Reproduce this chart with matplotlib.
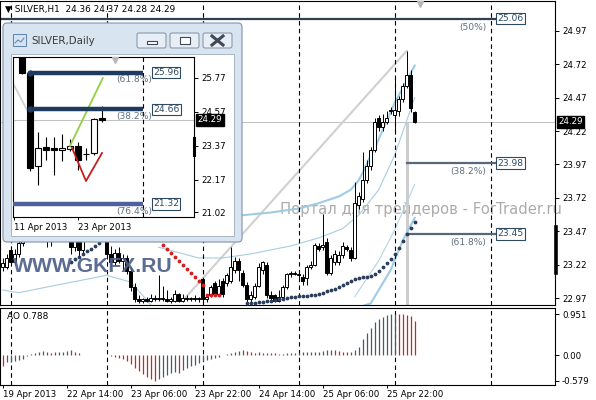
import matplotlib.pyplot as plt
from matplotlib.patches import Rectangle, FancyBboxPatch
import matplotlib.transforms as mtrans

W, H = 596, 400

# ---- SILVER H1 bars, index 0 = 22 Apr 2013 00:00 (first bar shown is 19 Apr 22:00)
bars = list(range(-2, 102))
opens = [23.20, 23.20, 23.33, 23.24, 23.30, 23.38, 23.45, 23.50, 23.52, 23.55,
         23.50, 23.43, 23.40, 23.46, 23.52, 23.55, 23.52, 23.42, 23.35, 23.41,
         23.33, 23.45, 23.52, 23.57, 23.55, 23.50, 23.45, 23.30, 23.24, 23.31,
         23.25, 23.27, 23.17, 23.05, 22.96, 22.95, 22.96, 22.95, 22.97, 22.96,
         22.97, 22.96, 22.95, 22.95, 23.00, 22.95, 22.97, 22.96, 22.97, 22.96,
         23.11, 22.96, 22.99, 23.08, 23.00, 23.10, 23.08, 23.10, 23.18, 23.25,
         23.16, 23.07, 22.96, 22.98, 23.06, 23.18, 23.22, 22.99, 22.99, 22.95,
         22.98, 23.05, 23.15, 23.16, 23.15, 23.13, 23.12, 23.20, 23.22, 23.36,
         23.35, 23.39, 23.16, 23.24, 23.24, 23.29, 23.35, 23.33, 23.27, 23.67,
         23.71, 23.85, 23.96, 24.08, 24.32, 24.25, 24.29, 24.37, 24.34, 24.37,
         24.46, 24.56, 24.64, 24.36]
highs = [23.27, 23.30, 23.36, 23.34, 23.45, 23.50, 23.55, 23.58, 23.60, 23.60,
         23.52, 23.47, 23.48, 23.54, 23.58, 23.62, 23.55, 23.46, 23.44, 23.45,
         23.48, 23.55, 23.60, 23.63, 23.62, 23.56, 23.47, 23.36, 23.34, 23.35,
         23.30, 23.29, 23.20, 23.08, 22.99, 22.97, 22.98, 23.00, 22.99, 23.14,
         23.06, 23.03, 22.98, 23.03, 23.01, 23.00, 22.99, 22.98, 22.99, 22.98,
         23.12, 23.00, 23.07, 23.10, 23.11, 23.12, 23.16, 23.35, 23.28, 23.27,
         23.18, 23.09, 23.02, 23.08, 23.23, 23.25, 23.24, 23.02, 23.00, 23.03,
         23.07, 23.16, 23.17, 23.17, 23.16, 23.15, 23.22, 23.25, 23.38, 23.38,
         23.60, 23.42, 23.29, 23.33, 23.32, 23.39, 23.37, 23.35, 23.84, 23.76,
         24.06, 24.00, 24.10, 24.32, 24.34, 24.35, 24.37, 24.40, 24.61, 24.48,
         24.58, 24.82, 24.68, 24.37]
lows = [23.17, 23.19, 23.22, 23.22, 23.28, 23.36, 23.42, 23.46, 23.48, 23.47,
        23.40, 23.35, 23.36, 23.43, 23.47, 23.50, 23.40, 23.30, 23.32, 23.28,
        23.31, 23.42, 23.48, 23.50, 23.48, 23.42, 23.26, 23.20, 23.22, 23.23,
        23.18, 23.15, 23.02, 22.94, 22.93, 22.93, 22.94, 22.94, 22.95, 22.95,
        22.95, 22.94, 22.93, 22.94, 22.94, 22.94, 22.95, 22.95, 22.95, 22.94,
        22.94, 22.94, 22.98, 22.99, 22.99, 22.98, 23.06, 23.08, 23.16, 23.10,
        23.05, 22.94, 22.93, 22.96, 23.05, 23.15, 22.97, 22.94, 22.94, 22.94,
        22.97, 23.04, 23.13, 23.14, 23.11, 23.07, 23.07, 23.19, 23.21, 23.32,
        23.33, 23.14, 23.14, 23.22, 23.22, 23.27, 23.32, 23.25, 23.26, 23.64,
        23.69, 23.83, 23.93, 24.06, 24.22, 24.22, 24.27, 24.35, 24.20, 24.33,
        24.44, 24.54, 24.36, 24.28]
closes = [23.23, 23.27, 23.24, 23.30, 23.38, 23.45, 23.50, 23.52, 23.55, 23.50,
          23.43, 23.40, 23.46, 23.52, 23.55, 23.52, 23.42, 23.35, 23.41, 23.33,
          23.45, 23.52, 23.57, 23.55, 23.50, 23.45, 23.30, 23.24, 23.31, 23.25,
          23.27, 23.17, 23.05, 22.96, 22.95, 22.96, 22.95, 22.97, 22.96, 22.97,
          22.96, 22.95, 22.96, 23.00, 22.95, 22.97, 22.96, 22.97, 22.96, 22.97,
          22.96, 22.98, 23.05, 23.00, 23.06, 23.00, 23.14, 23.20, 23.25, 23.18,
          23.07, 22.96, 22.99, 23.06, 23.20, 23.24, 22.99, 22.97, 22.95, 22.98,
          23.05, 23.15, 23.16, 23.15, 23.14, 23.10, 23.20, 23.22, 23.37, 23.34,
          23.37, 23.16, 23.27, 23.30, 23.29, 23.36, 23.34, 23.27, 23.68, 23.73,
          23.85, 23.96, 24.08, 24.29, 24.25, 24.29, 24.32, 24.38, 24.38, 24.46,
          24.56, 24.64, 24.39, 24.29]

# parabolic SAR dots
sar_a_bars = [15, 16, 17, 18, 19, 20, 21, 22]
sar_a_vals = [23.24, 23.26, 23.28, 23.30, 23.32, 23.34, 23.36, 23.38]
sar_b_bars = list(range(59, 102))
sar_b_vals = [22.93, 22.93, 22.935, 22.94, 22.94, 22.945, 22.95, 22.955, 22.96, 22.965,
              22.97, 22.975, 22.98, 22.983, 22.985, 22.989, 22.992, 22.996, 23.004, 23.011,
              23.022, 23.030, 23.041, 23.052, 23.067, 23.082, 23.097, 23.112, 23.120, 23.127,
              23.127, 23.135, 23.150, 23.172, 23.202, 23.232, 23.262, 23.299, 23.344, 23.397,
              23.449, 23.494, 23.539]
sar_red_bars = [38, 39, 40, 41, 42, 43, 44, 45, 46, 47, 48, 49, 50, 51, 52]
sar_red_vals = [23.37, 23.34, 23.31, 23.28, 23.25, 23.22, 23.19, 23.16, 23.13, 23.10,
                23.07, 22.99, 22.99, 22.99, 22.99]

# band lines
bb_up_bars = [58, 65, 72, 77, 82, 85, 87, 89, 90, 91, 96, 101]
bb_up_vals = [23.59, 23.61, 23.64, 23.68, 23.73, 23.78, 23.85, 23.97, 24.04, 24.09, 24.43, 24.71]
bb_mid_bars = [37, 42, 47, 53, 60, 70, 77, 83, 87, 92, 96, 101]
bb_mid_vals = [23.35, 23.31, 23.27, 23.27, 23.30, 23.36, 23.42, 23.49, 23.59, 23.78, 24.04, 24.47]
bb_lo1_bars = [-2, 2, 12, 24, 30, 33, 35]
bb_lo1_vals = [23.03, 23.01, 23.07, 23.14, 23.09, 22.99, 22.92]
bb_lo2_bars = [88, 90, 95, 98, 101]
bb_lo2_vals = [22.91, 22.93, 23.18, 23.40, 23.57]
env_bars = [86, 92, 96, 101]
env_vals = [22.98, 23.25, 23.48, 23.82]

# Awesome Oscillator
ao_vals = [-0.24, -0.16, -0.15, -0.13, -0.10, -0.07, -0.01, 0.03, 0.06, 0.09,
           0.10, 0.08, 0.06, 0.07, 0.07, 0.08, 0.10, 0.12, 0.09, 0.05,
           0.02, 0.01, 0.005, 0.01, 0.015, 0.01, 0.005, -0.01, -0.03, -0.05,
           -0.08, -0.13, -0.20, -0.28, -0.36, -0.43, -0.50, -0.55, -0.579, -0.53,
           -0.49, -0.45, -0.41, -0.37, -0.39, -0.34, -0.29, -0.25, -0.21, -0.17,
           -0.13, -0.10, -0.07, -0.05, -0.03, 0.01, 0.03, 0.06, 0.09, 0.11,
           0.12, 0.10, 0.08, 0.06, 0.07, 0.05, 0.06, 0.055, 0.05, 0.04,
           0.045, 0.05, 0.055, 0.06, 0.065, 0.07, 0.07, 0.075, 0.08, 0.09,
           0.11, 0.12, 0.13, 0.12, 0.10, 0.09, 0.085, 0.09, 0.12, 0.20,
           0.38, 0.52, 0.63, 0.76, 0.84, 0.88, 0.92, 0.94, 0.951, 0.945,
           0.94, 0.935, 0.91, 0.788]

price_ticks = [22.97, 23.22, 23.47, 23.72, 23.97, 24.22, 24.47, 24.72, 24.97]
ao_ticks = [0.951, 0.0, -0.579]
ao_tick_labels = ['0.951', '0.00', '-0.579']
time_bars = [-2, 14, 30, 46, 62, 78, 94]
time_labels = ['19 Apr 2013', '22 Apr 14:00', '23 Apr 06:00', '23 Apr 22:00',
               '24 Apr 14:00', '25 Apr 06:00', '25 Apr 22:00']
day_starts = [0, 24, 48, 72, 96, 120]

fib_levels = [25.06, 23.98, 23.45]
fib_names = ['(50%)', '(38.2%)', '(61.8%)']
fib_start = [-2.675, 99, 99]
fib_end = 121.1
last_price = 24.29

# ---- daily inset (index 0 = 12 Apr 2013)
d_bars = list(range(0, 11))
d_open = [27.60, 25.95, 22.66, 23.32, 23.28, 23.22, 23.26, 23.37, 23.08, 23.12, 24.36]
d_high = [27.80, 25.96, 23.86, 23.69, 23.69, 23.79, 23.60, 23.50, 23.30, 24.35, 24.78]
d_low = [25.90, 22.48, 21.99, 22.87, 22.34, 22.84, 23.20, 22.52, 22.87, 23.05, 24.22]
d_close = [25.95, 22.59, 23.30, 23.22, 23.22, 23.28, 23.37, 22.87, 23.10, 24.32, 24.29]
d_fib = [25.96, 24.66, 21.32]
d_fib_names = ['(61.8%)', '(38.2%)', '(76.4%)']
d_ticks = [25.77, 24.57, 23.37, 22.17, 21.02]

fs = 6.2
fig = plt.figure(figsize=(W / 100, H / 100), dpi=100)


def box(x0, y0, x1, y1):
    return [x0 / W, 1 - y1 / H, (x1 - x0) / W, (y1 - y0) / H]


def candles(a, xs, o, h, l, c, width, lw):
    for x, oo, hh, ll, cc in zip(xs, o, h, l, c):
        a.vlines(x, ll, hh, color='black', lw=lw, zorder=3)
        lo_, hi_ = min(oo, cc), max(oo, cc)
        a.add_patch(Rectangle((x - width / 2, lo_), width, max(hi_ - lo_, 1e-4),
                              fc='white' if cc >= oo else 'black', ec='black',
                              lw=lw, zorder=3.5))


ax = fig.add_axes(box(0, 1, 555, 305))
ao = fig.add_axes(box(0, 307.5, 555, 384.5))
for a in (ax, ao):
    a.set_xlim(-2.675, 136.075)
    for s in a.spines.values():
        s.set_linewidth(0.8)
    a.yaxis.tick_right()
    a.tick_params(axis='y', length=3, width=0.7, labelsize=fs, pad=2)
    for d in day_starts:
        a.axvline(d, color='black', lw=0.8, ls=(0, (4, 3)), zorder=2)
ax.set_ylim(22.918, 25.193)
ao.set_ylim(-0.665, 1.100)
ax.set_xticks([])
ax.set_yticks(price_ticks)
ax.set_yticklabels(['%.2f' % t for t in price_ticks])
ao.set_yticks(ao_ticks)
ao.set_yticklabels(ao_tick_labels)
ao.set_xticks(time_bars)
ao.set_xticklabels(time_labels, fontsize=fs)
ao.tick_params(axis='x', length=2, width=0.7, pad=2)
for t in ao.get_xticklabels():
    t.set_ha('left')

# watermark behind candles
ax.text(67.3, 23.63, 'Портал для трейдеров - ForTrader.ru', fontsize=10.6,
        color='#ABABAB', va='center', ha='left', zorder=0.5, clip_on=False)

ax.axhline(last_price, color='#C4C4C4', lw=0.75, zorder=1)
ax.plot([43, 99], [22.95, 24.82], color='#D0D0D0', lw=1.5, zorder=1.2)
ax.plot([99, 99], [22.90, 24.27], color='#CDCDCD', lw=2.2, zorder=1.2)

ax.plot(bb_up_bars, bb_up_vals, color='#9FCBE3', lw=1.5, zorder=1.5)
ax.plot(bb_mid_bars, bb_mid_vals, color='#A8CDE0', lw=0.8, zorder=1.5)
ax.plot(bb_lo1_bars, bb_lo1_vals, color='#A8CDE0', lw=0.8, zorder=1.5)
ax.plot(bb_lo2_bars, bb_lo2_vals, color='#9FCBE3', lw=1.5, zorder=1.5)
ax.plot(env_bars, env_vals, color='#B5D4E4', lw=0.8, zorder=1.5)

candles(ax, bars, opens, highs, lows, closes, 0.7, 0.7)

ax.scatter(sar_a_bars, sar_a_vals, s=3, color='#2C3E5C', zorder=4)
ax.scatter(sar_b_bars, sar_b_vals, s=3, color='#2C3E5C', zorder=4)
ax.scatter(sar_red_bars, sar_red_vals, s=3, color='#D02020', zorder=4)

for lvl, name, x0 in zip(fib_levels, fib_names, fib_start):
    col = '#2E4052' if name == '(50%)' else '#56687A'
    ax.plot([x0, fib_end], [lvl, lvl], color=col, lw=1.6, zorder=2.5)
    ax.text(fib_end + 0.6, lvl, '%.2f' % lvl, fontsize=6.6, color='#2E4A62',
            va='center', ha='left', zorder=5,
            bbox=dict(boxstyle='square,pad=0.12', fc='white', ec='#2E4A62', lw=0.8))
    ax.text(fib_end - 2.2, lvl - 0.03, name, fontsize=6.6, color='#5F6F80',
            va='top', ha='right', zorder=5)

ax.plot([102.3], [25.17], marker='v', ms=5, color='#B8B8B8', zorder=5, clip_on=False)

tr = mtrans.blended_transform_factory(ax.transAxes, ax.transData)
ax.text(1.006, last_price, '24.29', transform=tr, fontsize=fs, color='white',
        va='center', ha='left', zorder=10, clip_on=False,
        bbox=dict(boxstyle='square,pad=0.18', fc='black', ec='black'))
ax.plot([1.002, 1.002], [23.16, 23.50], transform=tr, color='black', lw=2.6,
        clip_on=False, zorder=10)

fig.text(5 / W, 1 - 9 / H, '\u25bc SILVER,H1  24.36 24.37 24.28 24.29', fontsize=6.4,
         va='center', ha='left')
fig.text(13 / W, 1 - 266 / H, 'WWW.GKFX.RU', fontsize=15.2, family='Liberation Sans',
         weight='bold', color='#4E6089', alpha=0.92, va='center', ha='left', zorder=3)

# AO histogram
ao_cols = []
prev = None
for v in ao_vals:
    ao_cols.append('#C0282D' if prev is None or v < prev else '#4C5868')
    prev = v
ao.vlines(bars, 0, ao_vals, colors=ao_cols, lw=0.9, zorder=3)
ao.text(0.012, 0.94, 'AO 0.788', transform=ao.transAxes, fontsize=6.4, va='top', ha='left')

# ---- child window with the daily chart
win = fig.add_axes(box(0, 20, 248, 250), zorder=5)
win.set_xlim(0, 248)
win.set_ylim(250, 20)
win.axis('off')
win.add_patch(FancyBboxPatch((3, 23), 239, 219, boxstyle='round,pad=0,rounding_size=4',
                             fc='#D9E4F1', ec='#7F93AD', lw=0.8))
win.add_patch(Rectangle((11, 54), 223, 182, fc='white', ec='#A7B6C8', lw=0.7))
win.add_patch(Rectangle((13, 34), 13, 12, fc='#D3E3F3', ec='#5F82AA', lw=0.7))
win.plot([15, 18, 21, 24], [43, 40, 42, 38], color='#5F82AA', lw=0.7)
win.text(31, 41.5, 'SILVER,Daily', fontsize=7.4, color='#3A3A3A', va='center', ha='left')
for bx in (137, 170, 203):
    win.add_patch(FancyBboxPatch((bx, 33), 29, 15, boxstyle='round,pad=0,rounding_size=2',
                                 fc='#E8EEF5', ec='#7D8EA6', lw=0.7))
win.add_patch(Rectangle((147, 41), 10, 3, fc='white', ec='#3F4A57', lw=0.8))
win.add_patch(Rectangle((180, 37), 10, 7, fc='white', ec='#3F4A57', lw=0.8))
win.plot([212, 223], [36, 45], color='#3F4A57', lw=2.2)
win.plot([212, 223], [45, 36], color='#3F4A57', lw=2.2)

ins = fig.add_axes(box(13, 57, 194, 217), zorder=6)
ins.set_xlim(-1.125, 21.5)
ins.set_ylim(20.858, 26.512)
for s in ins.spines.values():
    s.set_linewidth(0.8)
ins.yaxis.tick_right()
ins.set_yticks(d_ticks)
ins.set_yticklabels(['%.2f' % t for t in d_ticks])
ins.tick_params(axis='y', length=3, width=0.7, labelsize=fs, pad=2)
ins.set_xticks([-1, 7])
ins.set_xticklabels(['11 Apr 2013', '23 Apr 2013'], fontsize=fs)
ins.tick_params(axis='x', length=2, width=0.7, pad=2)
for t in ins.get_xticklabels():
    t.set_ha('left')
ins.axvline(15.1, color='black', lw=0.8, ls=(0, (4, 3)), zorder=2)
ins.axhline(last_price, color='#C4C4C4', lw=0.75, zorder=1)
ins.plot([-1.125, 0.75], [25.59, 24.57], color='#CFCFCF', lw=1.2, zorder=1)
candles(ins, d_bars, d_open, d_high, d_low, d_close, 0.65, 0.8)
ins.plot([6.0, 10.1], [23.37, 25.77], color='#8FD13F', lw=1.3, zorder=4)
ins.plot([6.25, 8.0, 10.0], [23.30, 22.13, 23.12], color='#C41E1E', lw=1.3, zorder=4)
for lvl, name in zip(d_fib, d_fib_names):
    col = '#50609A' if name == '(76.4%)' else '#1E3A5F'
    x0 = -1.125 if name == '(76.4%)' else 1.0
    ins.plot([x0, 15.1], [lvl, lvl], color=col, lw=3.2, zorder=4.5,
             solid_capstyle='butt')
    if x0 > 0:
        ins.plot([x0], [lvl], marker='o', ms=3.5, color=col, zorder=4.6)
    ins.text(16.4, lvl, '%.2f' % lvl, fontsize=6.6, color='#2E4A62', va='center',
             ha='left', zorder=5,
             bbox=dict(boxstyle='square,pad=0.12', fc='white', ec='#2E4A62', lw=0.8))
    ins.text(16.3, lvl - 0.1, name, fontsize=6.6, color='#5F6F80', va='top',
             ha='right', zorder=5)
ins.plot([11.6], [26.41], marker='v', ms=5, color='#B8B8B8', zorder=5)
tri = mtrans.blended_transform_factory(ins.transAxes, ins.transData)
ins.text(1.02, last_price, '24.29', transform=tri, fontsize=fs, color='white',
         va='center', ha='left', zorder=10, clip_on=False,
         bbox=dict(boxstyle='square,pad=0.18', fc='black', ec='black'))
ins.plot([1.0, 1.0], [23.05, 23.65], transform=tri, color='black', lw=2.2,
         clip_on=False, zorder=10)

fig.savefig('out.png', dpi=100)
